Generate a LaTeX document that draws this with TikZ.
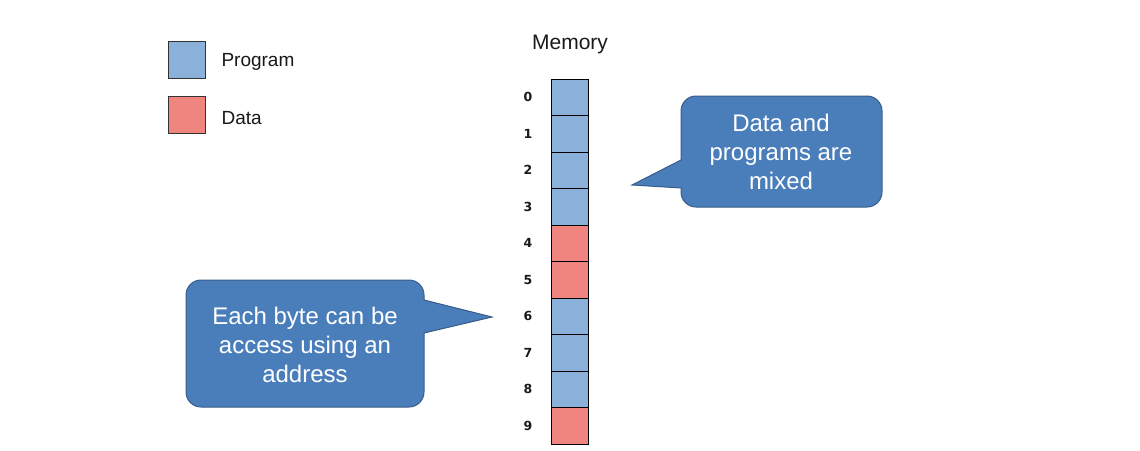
\documentclass[tikz,border=0pt]{standalone}
\usepackage{fontspec}
\setmainfont{Liberation Sans}
\newfontfamily\digitfont{DejaVu Sans}
\definecolor{progblue}{HTML}{8AB1D9}
\definecolor{datared}{HTML}{F08580}
\definecolor{callfill}{HTML}{4A7EBB}
\definecolor{calledge}{HTML}{385D8A}
\begin{document}
\begin{tikzpicture}[x=1pt,y=-1pt,
  cell/.style={draw=black,line width=0.8pt},
  legendbox/.style={draw=black!80,line width=0.8pt},
  lbl/.style={font=\fontsize{19}{22}\selectfont,anchor=west,text=black!90},
  addr/.style={font=\digitfont\bfseries\fontsize{12.5}{14}\selectfont,text=black!90},
  callout/.style={fill=callfill,draw=calledge,line width=1pt},
  calltext/.style={font=\fontsize{24}{29}\selectfont,text=white,align=center}]
\useasboundingbox (0,0) rectangle (1140,450);
% legend
\node[legendbox,fill=progblue,minimum width=37pt,minimum height=37pt,inner sep=0pt] (lp) at (186.5,59.5) {};
\node[legendbox,fill=datared,minimum width=37pt,minimum height=37pt,inner sep=0pt] (ld) at (186.5,114.5) {};
\node[lbl] (lpt) at (218,62) {Program};
\node[lbl] (ldt) at (218,118) {Data};
% memory title
\node[font=\fontsize{21}{24}\selectfont,text=black!90] (mt) at (570,44) {Memory};
% memory cells
\foreach \i/\c in {0/progblue,1/progblue,2/progblue,3/progblue,4/datared,5/datared,6/progblue,7/progblue,8/progblue,9/datared} {
  \pgfmathsetmacro{\ya}{79+36.5*\i}
  \pgfmathsetmacro{\yb}{79+36.5*(\i+1)}
  \filldraw[cell,fill=\c] (551.5,\ya) rectangle (588.5,\yb);
  \node[addr] (a\i) at (528,{(\ya+\yb)/2}) {\i};
}
% callout 1
\coordinate (t1) at (632,185);
\draw[callout] (t1) -- (681,160) [rounded corners=15pt] -- (681,96) -- (882,96)
  -- (882,207) -- (681,207) [sharp corners] -- (681,188) -- cycle;
\node[calltext] (c1) at (781,152) {Data and\\programs are\\mixed};
% callout 2
\coordinate (t2) at (492,317);
\draw[callout] (t2) -- (424,333) [rounded corners=15pt] -- (424,407) -- (186,407)
  -- (186,280) -- (424,280) [sharp corners] -- (424,300) -- cycle;
\node[calltext] (c2) at (305,345) {Each byte can be\\access using an\\address};
\end{tikzpicture}
\end{document}
